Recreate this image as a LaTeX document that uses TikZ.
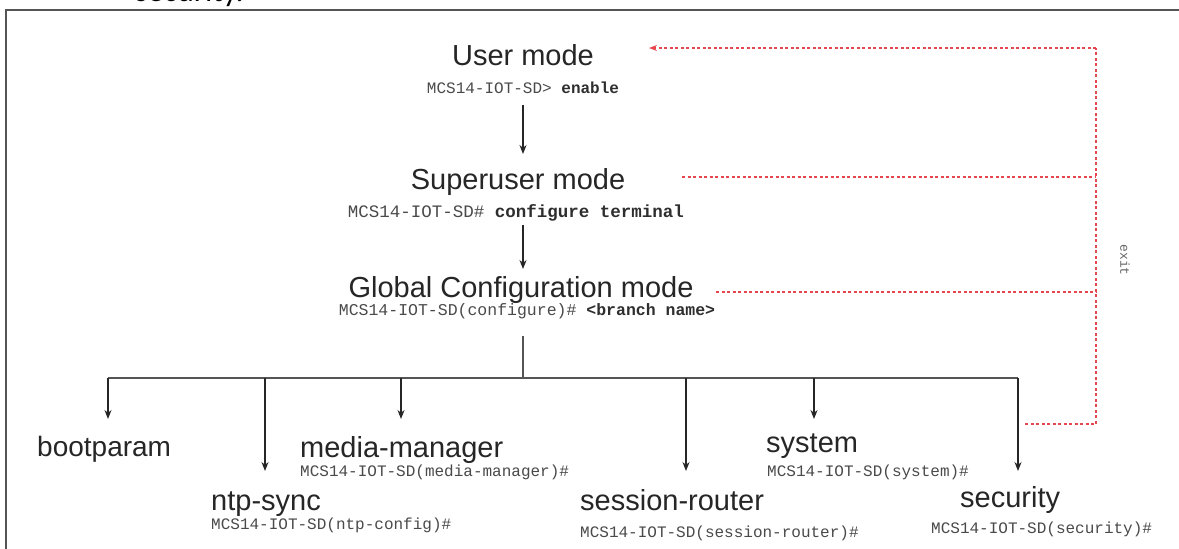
\documentclass[tikz,border=0pt]{standalone}
\usepackage{fontspec}
\setmainfont{Liberation Sans}
\newfontfamily\monof{Liberation Mono}
\newfontfamily\docf{Carlito}
\usetikzlibrary{arrows.meta}
\definecolor{ink}{HTML}{262626}
\definecolor{cmdink}{HTML}{4A4A4A}
\definecolor{cmdbold}{HTML}{2E2E2E}
\definecolor{exitred}{HTML}{E4474E}
\definecolor{framegray}{HTML}{555555}
\newcommand{\cmdb}[1]{\textbf{\textcolor{cmdbold}{#1}}}
\tikzset{
  modelbl/.style={inner sep=0pt, text=ink, font=\fontsize{29}{34}\selectfont},
  cmdlbl/.style={inner sep=0pt, text=cmdink, font=\monof\fontsize{16}{18}\selectfont},
  downarrow/.style={draw=ink, line width=1.3pt, -{Stealth[length=9pt,width=7pt]}},
  branchline/.style={draw=framegray, line width=1.6pt},
  exitline/.style={draw=exitred, line width=1.3pt, dash pattern=on 3pt off 2.5pt},
}
\begin{document}
\begin{tikzpicture}[x=1pt,y=-1pt]
\useasboundingbox (0,0) rectangle (1179,549);
\fill[white] (0,0) rectangle (1179,549);
% page fragment
\node[anchor=base west, inner sep=0pt, font=\docf\fontsize{32}{36}\selectfont, text=black] (frag) at (135,1) {security.};
\draw[draw=framegray, line width=1.8pt] (6,560) -- (6,10) -- (1190,10);

% top modes
\node[modelbl, anchor=base] (user) at (523,65) {User mode};
\node[cmdlbl, anchor=base] (usercmd) at (523,93) {MCS14-IOT-SD> \cmdb{enable}};
\node[modelbl, anchor=base] (super) at (518,189) {Superuser mode};
\node[cmdlbl, anchor=base, font=\monof\fontsize{17.5}{20}\selectfont] (supercmd) at (516,217) {MCS14-IOT-SD\# \cmdb{configure terminal}};
\node[modelbl, anchor=base] (global) at (521,297) {Global Configuration mode};
\node[cmdlbl, anchor=base, font=\monof\fontsize{16.5}{19}\selectfont] (globalcmd) at (527,315) {MCS14-IOT-SD(configure)\# \cmdb{<branch name>}};

\coordinate (a1s) at (523,105);
\coordinate (a1e) at (523,154);
\coordinate (a2s) at (523,225);
\coordinate (a2e) at (523,269);
\draw[downarrow] (a1s) -- (a1e);
\draw[downarrow] (a2s) -- (a2e);

% branch bus
\coordinate (vtop) at (523,336);
\coordinate (bus) at (523,378);
\coordinate (busL) at (108,378);
\coordinate (busR) at (1018,378);
\draw[branchline] (vtop) -- (bus);
\draw[branchline] (busL) -- (busR);

% branch targets
\node[modelbl, anchor=base west, font=\fontsize{28}{33}\selectfont] (boot) at (37,456) {bootparam};
\node[modelbl, anchor=base west] (media) at (300,457) {media-manager};
\node[cmdlbl, anchor=base west] (mediacmd) at (300,476) {MCS14-IOT-SD(media-manager)\#};
\node[modelbl, anchor=base west] (ntp) at (211,510) {ntp-sync};
\node[cmdlbl, anchor=base west] (ntpcmd) at (211,529) {MCS14-IOT-SD(ntp-config)\#};
\node[modelbl, anchor=base west] (sess) at (580,510) {session-router};
\node[cmdlbl, anchor=base west] (sesscmd) at (580,537) {MCS14-IOT-SD(session-router)\#};
\node[modelbl, anchor=base west] (sys) at (766,452) {system};
\node[cmdlbl, anchor=base west] (syscmd) at (767,476) {MCS14-IOT-SD(system)\#};
\node[modelbl, anchor=base west] (sec) at (960,507) {security};
\node[cmdlbl, anchor=base west] (seccmd) at (931,533) {MCS14-IOT-SD(security)\#};

\draw[downarrow] (busL) -- (108,419);
\draw[downarrow] (265,378) -- (265,471);
\draw[downarrow] (401,378) -- (401,419);
\draw[downarrow] (686,378) -- (686,471);
\draw[downarrow] (814,378) -- (814,419);
\draw[downarrow] (busR) -- (1018,471);

% exit return path
\coordinate (rTop) at (1096,48);
\coordinate (rBot) at (1096,424);
\coordinate (rSup) at (1096,177);
\coordinate (rGlob) at (1096,292);
\coordinate (tipU) at (649,48);
\coordinate (sSup) at (682,177);
\coordinate (sGlob) at (716,292);
\coordinate (sSec) at (1025,424);
\draw[exitline] (sSec) -- (rBot) -- (rTop);
\draw[exitline, -{Stealth[length=8pt,width=6pt]}] (rTop) -- (tipU);
\draw[exitline] (sSup) -- (rSup);
\draw[exitline] (sGlob) -- (rGlob);
\node[cmdlbl, rotate=-90, font=\monof\fontsize{13}{15}\selectfont, text=cmdink!85] (exitlbl) at (1125,260) {exit};
\end{tikzpicture}
\end{document}
